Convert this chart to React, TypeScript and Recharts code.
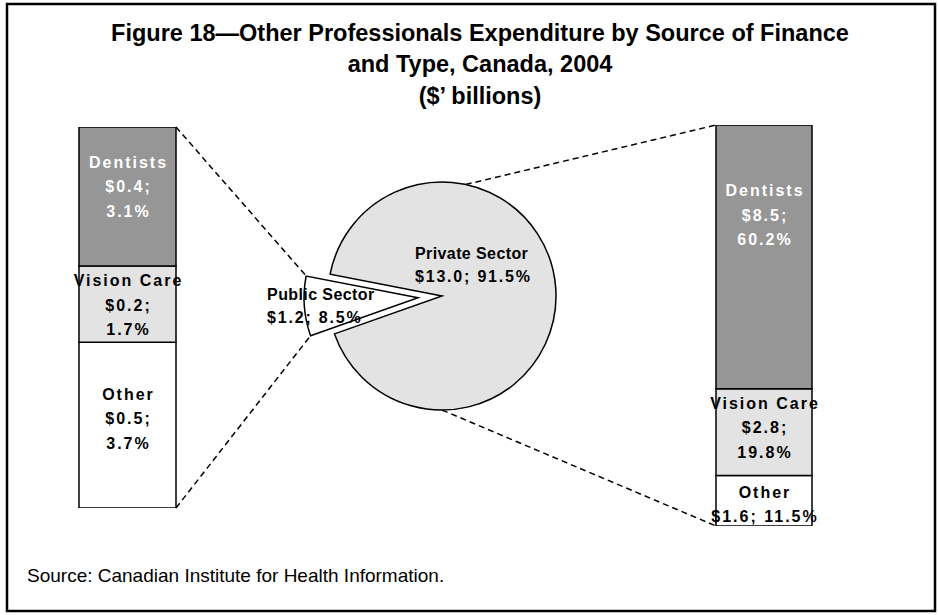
import React from "react";
import { BarChart, Bar, XAxis, YAxis, PieChart, Pie, Cell, LabelList } from "recharts";

// values ($ billions and share of total)
const segmentNames = ["Dentists", "Vision Care", "Other"];
const publicDollars = [0.4, 0.2, 0.5];
const publicShare = [3.1, 1.7, 3.7];
const privateDollars = [8.5, 2.8, 1.6];
const privateShare = [60.2, 19.8, 11.5];
const sectorNames = ["Public Sector", "Private Sector"];
const sectorDollars = [1.2, 13.0];
const sectorShare = [8.5, 91.5];

const titleLines = [
  "Figure 18\u2014Other Professionals Expenditure by Source of Finance",
  "and Type, Canada, 2004",
  "($\u2019 billions)",
];
const sourceNote = "Source: Canadian Institute for Health Information.";

const W = 938;
const H = 615;
const FONT = "'Liberation Sans', Arial, sans-serif";
const segFill = ["#969696", "#E3E3E3", "#FFFFFF"];
const segText = ["#FFFFFF", "#000000", "#000000"];

const leftBox = { x: 79, y: 127, w: 97, h: 381 };
const rightBox = { x: 716, y: 125, w: 96, h: 401 };
const pieBox = { cx: 442, cy: 296, r: 114, start: 169, explode: 24 };

const sum = (a: number[]) => a.reduce((s, v) => s + v, 0);
const fmt = (v: number) => v.toFixed(1);

const sectorRows = sectorNames.map((name, i) => ({
  name,
  value: sectorDollars[i],
  share: sectorShare[i],
}));
const publicSweep = (360 * sectorDollars[0]) / sum(sectorDollars);
const midRad = ((pieBox.start + publicSweep / 2) * Math.PI) / 180;
const exCx = pieBox.cx + pieBox.explode * Math.cos(midRad);
const exCy = pieBox.cy - pieBox.explode * Math.sin(midRad);
const polar = (cx: number, cy: number, r: number, deg: number) => ({
  x: cx + r * Math.cos((deg * Math.PI) / 180),
  y: cy - r * Math.sin((deg * Math.PI) / 180),
});

const LH = 24.5;

function SegmentLabel(props: any) {
  const { lines, color, shift } = props;
  const vb = props.viewBox && props.viewBox.width != null ? props.viewBox : props;
  const cx = vb.x + vb.width / 2;
  const cy = vb.y + vb.height / 2 + shift;
  const n = lines.length;
  return (
    <text
      textAnchor="middle"
      fill={color}
      fontSize={16}
      fontWeight="bold"
      letterSpacing={2}
      fontFamily={FONT}
    >
      {lines.map((l: string, k: number) => (
        <tspan key={k} x={cx + 1} y={cy + (k - (n - 1) / 2) * LH + 5.5}>
          {l}
        </tspan>
      ))}
    </text>
  );
}

function StackedColumn({ box, dollars, shares, shifts, joinLast }: any) {
  const row: any = { name: "col" };
  shares.forEach((v: number, i: number) => (row["s" + i] = v));
  const padX = 30;
  const padY = 2;
  const linesFor = (i: number) => {
    const money = `$${fmt(dollars[i])};`;
    const pct = `${fmt(shares[i])}%`;
    if (joinLast && i === shares.length - 1) return [segmentNames[i], `${money} ${pct}`];
    return [segmentNames[i], money, pct];
  };
  return (
    <div style={{ position: "absolute", left: box.x - padX, top: box.y - padY }}>
      <BarChart
        width={box.w + 2 * padX}
        height={box.h + 2 * padY}
        data={[row]}
        margin={{ top: padY, right: padX, bottom: padY, left: padX }}
        barCategoryGap={0}
      >
        <XAxis dataKey="name" hide />
        <YAxis hide domain={[0, sum(shares)]} allowDataOverflow />
        {[2, 1, 0].map((i) => (
          <Bar
            key={i}
            dataKey={"s" + i}
            stackId="a"
            fill={segFill[i]}
            stroke="#000"
            strokeWidth={1.5}
            isAnimationActive={false}
          >
            <LabelList
              dataKey={"s" + i}
              content={(p: any) => (
                <SegmentLabel {...p} lines={linesFor(i)} color={segText[i]} shift={shifts[i]} />
              )}
            />
          </Bar>
        ))}
      </BarChart>
    </div>
  );
}

function pieLabel(which: number, dx: number, dy: number) {
  return (p: any) => {
    if (p.index !== which) return null;
    const x = p.cx + dx;
    const y = p.cy + dy;
    return (
      <text fontSize={16} fontWeight="bold" fontFamily={FONT} fill="#000">
        <tspan x={x} y={y + 5.5} letterSpacing={0.4}>
          {sectorRows[which].name}
        </tspan>
        <tspan x={x} y={y + 5.5 + 23} letterSpacing={1.8}>
          {`$${fmt(sectorRows[which].value)}; ${fmt(sectorRows[which].share)}%`}
        </tspan>
      </text>
    );
  };
}

export default function App() {
  const end = pieBox.start + 360;
  const pubTop = polar(exCx, exCy, pieBox.r, pieBox.start);
  const pubBot = polar(exCx, exCy, pieBox.r, pieBox.start + publicSweep);
  const pieTop = polar(pieBox.cx, pieBox.cy, pieBox.r, 78);
  const pieBot = polar(pieBox.cx, pieBox.cy, pieBox.r, 270);
  const dash = { stroke: "#000", strokeWidth: 1.5, strokeDasharray: "6 4" };
  return (
    <div style={{ position: "absolute", left: 0, top: 0, width: W, height: H, background: "#fff" }}>
      <svg width={W} height={H} style={{ position: "absolute", left: 0, top: 0 }}>
        <rect x={7} y={4} width={928} height={607} fill="#fff" stroke="#000" strokeWidth={2.5} />
        {titleLines.map((t, i) => (
          <text
            key={i}
            x={480}
            y={[41, 72, 104][i]}
            textAnchor="middle"
            fontSize={23.5}
            fontWeight="bold"
            fontFamily={FONT}
          >
            {t}
          </text>
        ))}
        <text x={27} y={582} fontSize={19} fontFamily={FONT}>
          {sourceNote}
        </text>
        <line x1={leftBox.x + leftBox.w} y1={leftBox.y} x2={pubTop.x} y2={pubTop.y} {...dash} />
        <line x1={leftBox.x + leftBox.w} y1={leftBox.y + leftBox.h} x2={pubBot.x} y2={pubBot.y} {...dash} />
        <line x1={pieTop.x} y1={pieTop.y} x2={rightBox.x} y2={rightBox.y} {...dash} />
        <line x1={pieBot.x} y1={pieBot.y} x2={rightBox.x} y2={rightBox.y + rightBox.h} {...dash} />
      </svg>

      <div style={{ position: "absolute", left: 0, top: 0 }}>
        <PieChart width={W} height={H} margin={{ top: 0, right: 0, bottom: 0, left: 0 }}>
          <Pie
            data={sectorRows}
            dataKey="value"
            nameKey="name"
            cx={pieBox.cx}
            cy={pieBox.cy}
            outerRadius={pieBox.r}
            startAngle={pieBox.start}
            endAngle={end}
            stroke="#000"
            strokeWidth={1.5}
            isAnimationActive={false}
            labelLine={false}
            label={pieLabel(1, -27, -43)}
          >
            <Cell fill="none" stroke="none" />
            <Cell fill="#E3E3E3" />
          </Pie>
          <Pie
            data={sectorRows}
            dataKey="value"
            nameKey="name"
            cx={exCx}
            cy={exCy}
            outerRadius={pieBox.r}
            startAngle={pieBox.start}
            endAngle={end}
            stroke="#000"
            strokeWidth={1.5}
            isAnimationActive={false}
            labelLine={false}
            label={pieLabel(0, -151, -3)}
          >
            <Cell fill="#FFFFFF" />
            <Cell fill="none" stroke="none" />
          </Pie>
        </PieChart>
      </div>

      <StackedColumn
        box={leftBox}
        dollars={publicDollars}
        shares={publicShare}
        shifts={[-9.5, 1, -6.5]}
        joinLast={false}
      />
      <StackedColumn
        box={rightBox}
        dollars={privateDollars}
        shares={privateShare}
        shifts={[-41.5, -4.5, 3.5]}
        joinLast
      />
    </div>
  );
}
